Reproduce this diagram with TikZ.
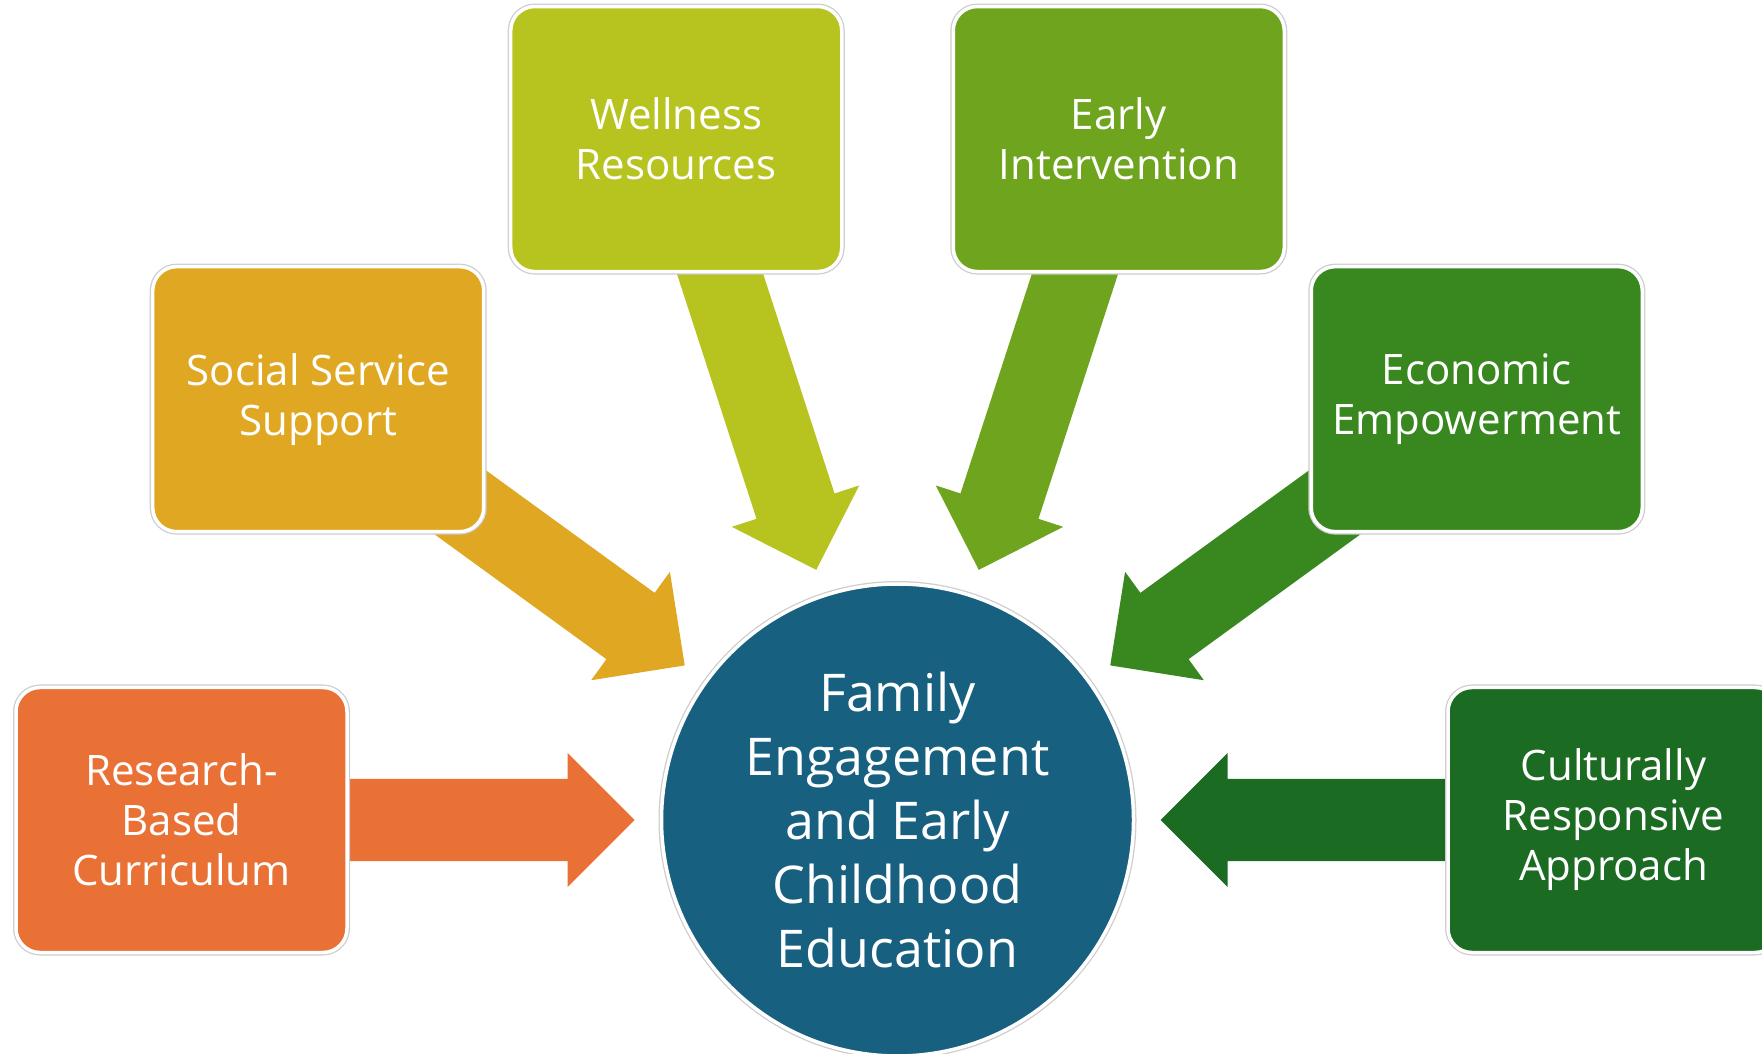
\documentclass[tikz,border=0pt]{standalone}
\usepackage{fontspec}
\setmainfont{Open Sans}
\definecolor{researchc}{RGB}{233,113,53}
\definecolor{socialc}{RGB}{224,168,34}
\definecolor{wellnessc}{RGB}{183,195,31}
\definecolor{earlyc}{RGB}{110,164,30}
\definecolor{economicc}{RGB}{56,135,31}
\definecolor{culturalc}{RGB}{27,107,35}
\definecolor{hubc}{RGB}{23,96,127}
\definecolor{edgec}{RGB}{205,205,205}
\begin{document}
\begin{tikzpicture}[x=1pt,y=1pt,
  box/.style={rectangle, rounded corners=24pt, minimum width=331pt, minimum height=265pt,
    inner sep=0pt, text=white, align=center, font=\fontsize{42}{50}\selectfont,
    draw=white, line width=3.5pt, preaction={draw=edgec, line width=6pt}},
  hub/.style={circle, minimum size=472pt, inner sep=0pt, fill=hubc, text=white, align=center,
    font=\fontsize{52}{64}\selectfont, draw=white, line width=3.5pt,
    preaction={draw=edgec, line width=6pt}},
  blockarrow/.pic={\fill[#1] (650,41) -- (330,41) -- (330,67) -- (263,0) -- (330,-67) -- (330,-41) -- (650,-41) -- cycle;}
]
\useasboundingbox (0,0) rectangle (1762,1053);
\clip (0,0) rectangle (1762,1053);
\fill[white] (0,0) rectangle (1762,1053);

\node[hub] (hub) at (897.5,233) {Family\\Engagement\\and Early\\Childhood\\Education};

% block arrows (radial, drawn beneath the boxes)
\path (hub.center) pic[rotate=180] {blockarrow=researchc};
\path (hub.center) pic[rotate=144] {blockarrow=socialc};
\path (hub.center) pic[rotate=108] {blockarrow=wellnessc};
\path (hub.center) pic[rotate=72]  {blockarrow=earlyc};
\path (hub.center) pic[rotate=36]  {blockarrow=economicc};
\path (hub.center) pic[rotate=0]   {blockarrow=culturalc};

% boxes
\path (hub.center) ++(180:716) node[box, fill=researchc] (research) {Research-\\Based\\Curriculum};
\path (hub.center) ++(144:716) node[box, fill=socialc] (social) {Social Service\\Support};
\path (hub.center) ++(108:716) node[box, fill=wellnessc] (wellness) {Wellness\\Resources};
\path (hub.center) ++(72:716)  node[box, fill=earlyc] (early) {Early\\Intervention};
\path (hub.center) ++(36:716)  node[box, fill=economicc] (economic) {Economic\\Empowerment};
\path (hub.center) ++(0:716)   node[box, fill=culturalc] (cultural) {Culturally\\Responsive\\Approach};
\end{tikzpicture}
\end{document}
